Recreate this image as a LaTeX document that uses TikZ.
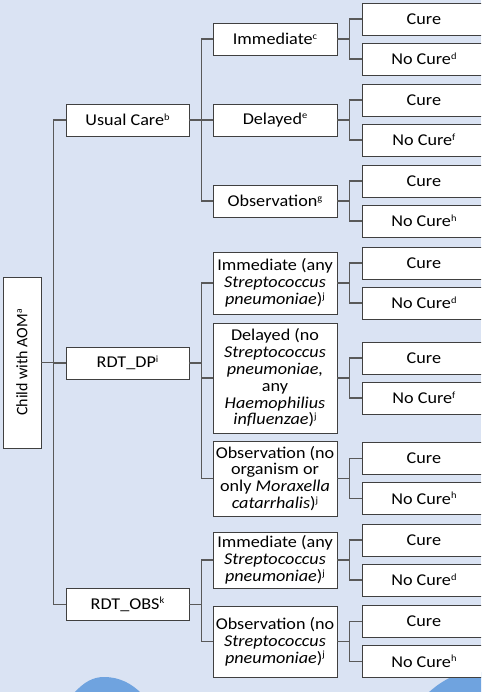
\documentclass[tikz,border=0pt]{standalone}
\usepackage{fontspec}
\setmainfont{Carlito}[FakeStretch=1.1]
\newfontfamily\rootfont{Carlito}
\usepackage{tikz}
\usetikzlibrary{positioning}
\definecolor{TreeBack}{HTML}{DAE3F3}
\definecolor{TreeBlob}{HTML}{6FA3DF}
\definecolor{TreeLine}{HTML}{595959}
\definecolor{TreeEdge}{HTML}{404040}
\newcommand{\supmark}[1]{\raisebox{5.5pt}{\fontsize{9.5}{9.5}\selectfont#1}}
\tikzset{
  treebox/.style={draw=TreeEdge,line width=0.9pt,fill=white,align=center,inner sep=1pt,font=\fontsize{16.5}{16.8}\selectfont},
  armbox/.style={treebox,minimum width=123pt,minimum height=32pt},
  choicebox/.style={treebox,minimum width=124pt},
  leafbox/.style={treebox,minimum width=122pt,minimum height=32pt,anchor=west},
  treelink/.style={line width=1.2pt,draw=TreeLine}
}

\begin{document}
\begin{tikzpicture}[x=1pt,y=-1pt]
\clip (0,0) rectangle (481,692);
\fill[TreeBack] (0,0) rectangle (481,692);
% blue shapes at the bottom edge
\fill[TreeBlob] (74,693) .. controls (84,682) and (93,677) .. (104,677) .. controls (120,677) and (132,684) .. (141,693) -- cycle;
\fill[TreeBlob] (428,693) .. controls (440,682) and (455,673) .. (470,672) -- (482,672) -- (482,693) -- cycle;
\node[treebox,minimum width=38pt,minimum height=171pt] (root) at (22,362.5) {\rotatebox{90}{\rootfont\fontsize{16}{18}\selectfont Child with AOM\supmark{a}}};
\node[armbox] (usual) at (127.5,120) {Usual Care\supmark{b}};
\node[armbox] (rdtdp) at (127.5,363) {RDT\_DP\supmark{i}};
\node[armbox] (rdtobs) at (127.5,604.5) {RDT\_OBS\supmark{k}};
\node[choicebox,minimum height=32pt] (uimm) at (275,39) {Immediate\supmark{c}};
\node[choicebox,minimum height=32pt] (udel) at (275,120) {Delayed\supmark{e}};
\node[choicebox,minimum height=32pt] (uobs) at (275,201) {Observation\supmark{g}};
\node[choicebox,minimum height=62pt] (dimm) at (275,283) {Immediate (any\\\textit{Streptococcus}\\\textit{pneumoniae})\supmark{j}};
\node[choicebox,minimum height=110pt] (ddel) at (275,378) {Delayed (no\\\textit{Streptococcus}\\\textit{pneumoniae,}\\any\\\textit{Haemophilius}\\\textit{influenzae})\supmark{j}};
\node[choicebox,minimum height=75pt] (dobs) at (275,478.5) {Observation (no\\organism or\\only \textit{Moraxella}\\\textit{catarrhalis})\supmark{j}};
\node[choicebox,minimum height=56pt] (oimm) at (275,560) {Immediate (any\\\textit{Streptococcus}\\\textit{pneumoniae})\supmark{j}};
\node[choicebox,minimum height=71pt] (oobs) at (275,641.5) {Observation (no\\\textit{Streptococcus}\\\textit{pneumoniae})\supmark{j}};
\foreach \a in {usual,rdtdp,rdtobs}
  \draw[treelink] (root.east) -- ++(12pt,0) |- (\a.west);
\foreach \a in {uimm,udel,uobs}
  \draw[treelink] (usual.east) -- ++(12pt,0) |- (\a.west);
\foreach \a in {dimm,ddel,dobs}
  \draw[treelink] (rdtdp.east) -- ++(12pt,0) |- (\a.west);
\foreach \a in {oimm,oobs}
  \draw[treelink] (rdtobs.east) -- ++(12pt,0) |- (\a.west);
% cure / no cure outcomes
\foreach \p/\n in {uimm/d,udel/f,uobs/h,dimm/d,ddel/f,dobs/h,oimm/d,oobs/h}{
  \node[leafbox] (cure\p) at ([xshift=25pt,yshift=20pt]\p.east) {Cure};
  \node[leafbox] (nocure\p) at ([xshift=25pt,yshift=-20pt]\p.east) {No Cure\supmark{\n}};
  \draw[treelink] (\p.east) -- ++(12pt,0) |- (cure\p.west);
  \draw[treelink] (\p.east) -- ++(12pt,0) |- (nocure\p.west);
}
\end{tikzpicture}
\end{document}
